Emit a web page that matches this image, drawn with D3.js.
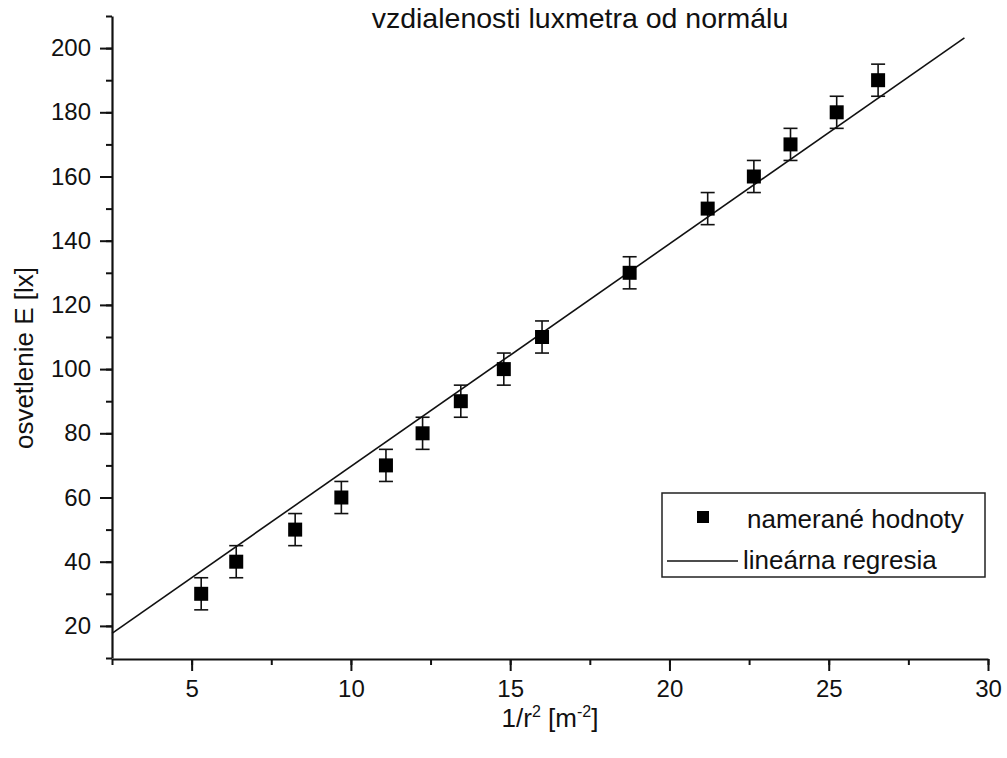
<!DOCTYPE html>
<html><head><meta charset="utf-8">
<script src="https://cdn.jsdelivr.net/npm/d3@7"></script>
<style>body{margin:0;background:#fff}svg{display:block}text{font-family:"Liberation Sans",Arial,sans-serif;fill:#111}</style>
</head><body>
<script>
const xValues = [5.30, 6.40, 8.25, 9.70, 11.10, 12.25, 13.45, 14.80, 16.00, 18.75, 21.20, 22.65, 23.80, 25.25, 26.55];
const yValues = [30, 40, 50, 60, 70, 80, 90, 100, 110, 130, 150, 160, 170, 180, 190];
const yErrors = [5, 5, 5, 5, 5, 5, 5, 5, 5, 5, 5, 5, 5, 5, 5];
const regX = [2.5, 29.26];
const regY = [17.7, 203.2];
const xTicks = [5, 10, 15, 20, 25, 30];
const yTicks = [20, 40, 60, 80, 100, 120, 140, 160, 180, 200];
const titleText = "vzdialenosti luxmetra od normálu";
const legendLabels = ["namerané hodnoty", "lineárna regresia"];

const W = 1007, H = 758;
const svg = d3.select("body").append("svg").attr("width", W).attr("height", H);
const x = d3.scaleLinear().domain([2.5, 30]).range([112, 988]);
const y = d3.scaleLinear().domain([10, 210]).range([658, 16]);

// title
svg.append("text").attr("x", 580).attr("y", 28).attr("text-anchor", "middle")
  .style("font-size", "28.5px").text(titleText);

// axes
const xMinor = d3.range(2.5, 30.01, 2.5);
const yMinor = d3.range(10, 210.01, 10);
function styleAxis(g) {
  g.selectAll("line").attr("stroke", "#111").attr("stroke-width", 2);
  g.selectAll(".domain").attr("stroke", "#111").attr("stroke-width", 2.2);
  g.selectAll("text").style("font-size", "24px").attr("fill", "#111");
}
const gxm = svg.append("g").attr("transform", "translate(0,659)")
  .call(d3.axisBottom(x).tickValues(xMinor).tickSize(6).tickFormat("").tickSizeOuter(0));
gxm.select(".domain").remove(); styleAxis(gxm);
const gx = svg.append("g").attr("transform", "translate(0,659)")
  .call(d3.axisBottom(x).tickValues(xTicks).tickSize(12).tickPadding(9).tickSizeOuter(0));
styleAxis(gx);

const gym = svg.append("g").attr("transform", "translate(112,0)")
  .call(d3.axisLeft(y).tickValues(yMinor).tickSize(6).tickFormat("").tickSizeOuter(0));
gym.select(".domain").remove(); styleAxis(gym);
const gy = svg.append("g").attr("transform", "translate(112,0)")
  .call(d3.axisLeft(y).tickValues(yTicks).tickSize(12).tickPadding(9).tickSizeOuter(0));
styleAxis(gy);

// axis labels
svg.append("text").attr("transform", "translate(33,358) rotate(-90)").attr("text-anchor", "middle")
  .style("font-size", "26px").text("osvetlenie E [lx]");
const xl = svg.append("text").attr("x", 550).attr("y", 727).attr("text-anchor", "middle").style("font-size", "26px");
xl.append("tspan").text("1/r");
xl.append("tspan").attr("dy", -10).style("font-size", "16px").text("2");
xl.append("tspan").attr("dy", 10).text(" [m");
xl.append("tspan").attr("dy", -10).style("font-size", "16px").text("-2");
xl.append("tspan").attr("dy", 10).text("]");

// regression line
const line = d3.line().x(d => x(d[0])).y(d => y(d[1]));
svg.append("path").datum(d3.zip(regX, regY)).attr("d", line)
  .attr("fill", "none").attr("stroke", "#111").attr("stroke-width", 1.6);

// error bars and markers
const pts = xValues.map((v, i) => ({x: v, y: yValues[i], e: yErrors[i]}));
const eb = svg.append("g").attr("stroke", "#111").attr("stroke-width", 1.6);
pts.forEach(p => {
  eb.append("line").attr("x1", x(p.x)).attr("x2", x(p.x)).attr("y1", y(p.y - p.e)).attr("y2", y(p.y + p.e));
  [p.y - p.e, p.y + p.e].forEach(v => eb.append("line").attr("x1", x(p.x) - 7).attr("x2", x(p.x) + 7).attr("y1", y(v)).attr("y2", y(v)));
});
svg.append("g").selectAll("rect").data(pts).join("rect")
  .attr("x", d => x(d.x) - 7).attr("y", d => y(d.y) - 7).attr("width", 14).attr("height", 14).attr("fill", "#000");

// legend
const lg = svg.append("g");
lg.append("rect").attr("x", 662).attr("y", 493).attr("width", 323).attr("height", 84)
  .attr("fill", "#fff").attr("stroke", "#222").attr("stroke-width", 1.5);
lg.append("rect").attr("x", 697).attr("y", 511).attr("width", 12).attr("height", 12).attr("fill", "#000");
lg.append("text").attr("x", 747).attr("y", 528).style("font-size", "26px").text(legendLabels[0]);
lg.append("line").attr("x1", 667).attr("x2", 738).attr("y1", 561).attr("y2", 561).attr("stroke", "#111").attr("stroke-width", 1.6);
lg.append("text").attr("x", 743).attr("y", 569).style("font-size", "26px").text(legendLabels[1]);
</script>
</body></html>
